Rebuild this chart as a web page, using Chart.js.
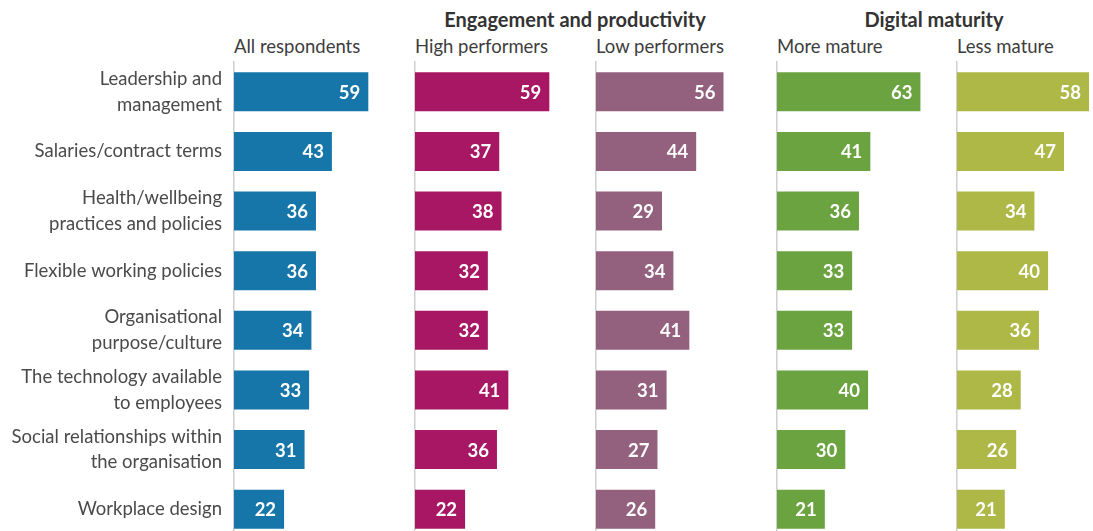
<!DOCTYPE html>
<html><head><meta charset="utf-8">
<script src="https://cdn.jsdelivr.net/npm/chart.js@4"></script>
<style>
html,body{margin:0;padding:0;width:1093px;height:531px;overflow:hidden;background:#fff;font-family:Lato,sans-serif;}
canvas{position:absolute;top:0;}
.h{position:absolute;white-space:nowrap;color:#3d3d3d;font-size:18.5px;}
.b{font-weight:700;color:#333;font-size:20px;transform:translateX(-50%);}
</style></head><body>
<div class="h b" style="left:575px;top:7px;">Engagement and productivity</div>
<div class="h b" style="left:934px;top:7px;">Digital maturity</div>
<div class="h" style="left:234px;top:35px;">All respondents</div>
<div class="h" style="left:415px;top:35px;">High performers</div>
<div class="h" style="left:596px;top:35px;">Low performers</div>
<div class="h" style="left:777px;top:35px;">More mature</div>
<div class="h" style="left:957px;top:35px;">Less mature</div>
<canvas id="c0"></canvas><canvas id="c1"></canvas><canvas id="c2"></canvas><canvas id="c3"></canvas><canvas id="c4"></canvas>
<script>
const categories = [
  ['Leadership and','management'],
  'Salaries/contract terms',
  ['Health/wellbeing','practices and policies'],
  'Flexible working policies',
  ['Organisational','purpose/culture'],
  ['The technology available','to employees'],
  ['Social relationships within','the organisation'],
  'Workplace design'
];
const allRespondents = [59,43,36,36,34,33,31,22];
const highPerformers = [59,37,38,32,32,41,36,22];
const lowPerformers  = [56,44,29,34,41,31,27,26];
const moreMature     = [63,41,36,33,33,40,30,21];
const lessMature     = [58,47,34,40,36,28,26,21];

const panels = [
  {data: allRespondents, color:'#1675a9'},
  {data: highPerformers, color:'#a71763'},
  {data: lowPerformers,  color:'#93607e'},
  {data: moreMature,     color:'#6aa340'},
  {data: lessMature,     color:'#adb847'}
];
const panelLefts = [234, 415, 596, 777, 957];
const panelW = 181;

const valueLabels = {
  id:'valueLabels',
  afterDatasetsDraw(chart){
    const ctx = chart.ctx;
    ctx.save();
    ctx.fillStyle = '#ffffff';
    ctx.font = '700 18.5px Lato';
    ctx.textAlign = 'right';
    ctx.textBaseline = 'middle';
    chart.getDatasetMeta(0).data.forEach((el,i)=>{
      ctx.fillText(String(chart.data.datasets[0].data[i]), el.x - 8, el.y + 1);
    });
    ctx.restore();
  }
};

panels.forEach((p, i) => {
  const W = i === 0 ? 234 : 10;
  const cv = document.getElementById('c'+i);
  cv.width = W + panelW; cv.height = 539;
  cv.style.left = (panelLefts[i] - W) + 'px';
  new Chart(cv, {
    type:'bar',
    data:{labels: categories, datasets:[{data:p.data, backgroundColor:p.color, barPercentage:0.655, categoryPercentage:1}]},
    options:{
      indexAxis:'y', responsive:false, animation:false,
      layout:{padding:{top:62, left:0, right:0, bottom:0}},
      plugins:{legend:{display:false}, tooltip:{enabled:false}},
      scales:{
        x:{display:false, min:0, max:79.5},
        y:{
          grid:{display:false, drawTicks:false},
          border:{display:true, color:'#cfcfcf', width:1.5},
          ticks:{display: i===0, color:'#4a4a4a', padding:12, font:{family:'Lato', size:18.5, lineHeight:1.4}},
          afterFit(s){ s.width = W; s.paddingTop = 0; s.paddingBottom = 0; }
        }
      }
    },
    plugins:[valueLabels]
  });
});
</script>
</body></html>
